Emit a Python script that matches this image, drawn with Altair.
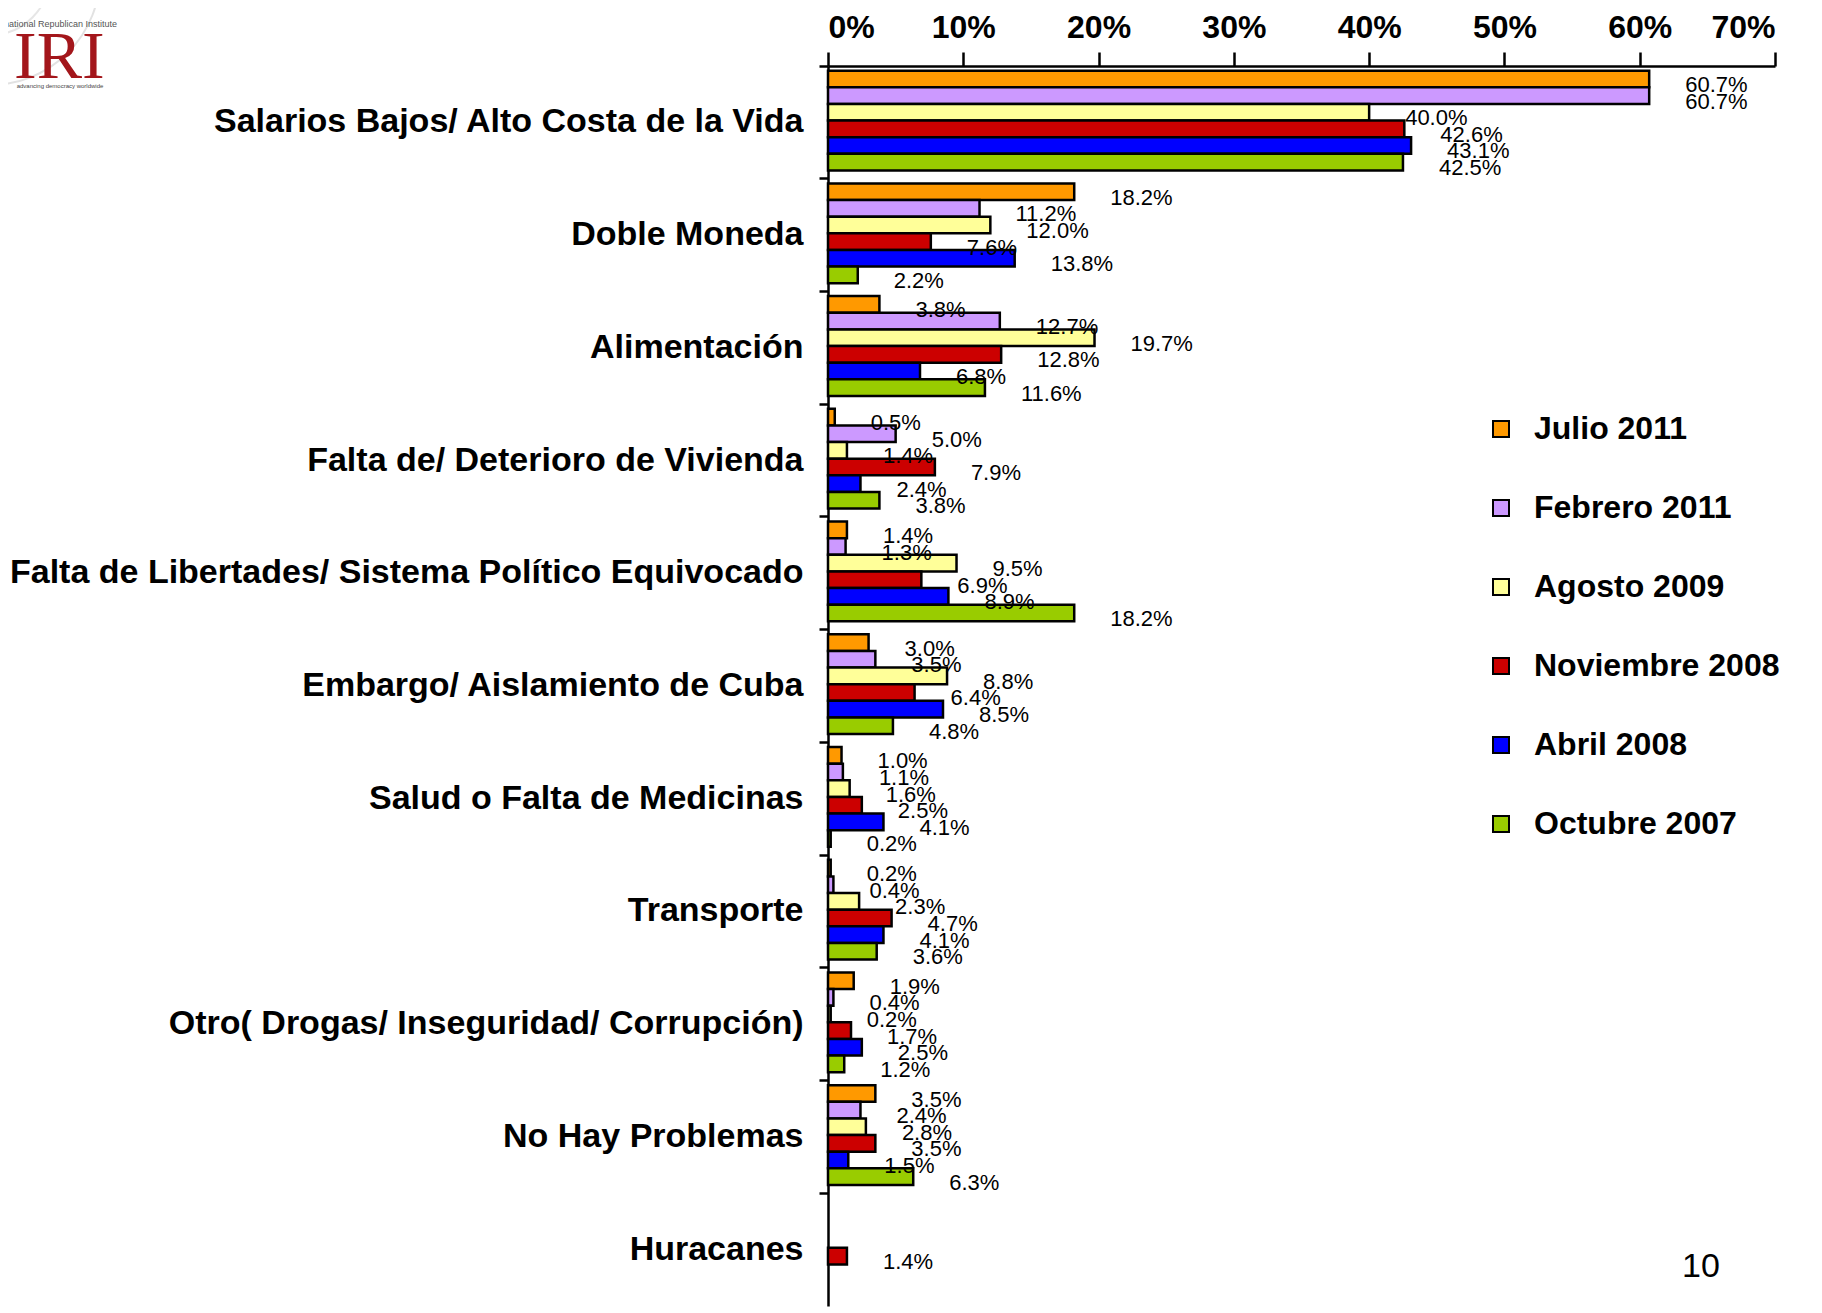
import altair as alt
import pandas as pd

categories = [
    "Salarios Bajos/ Alto Costa de la Vida",
    "Doble Moneda",
    "Alimentación",
    "Falta de/ Deterioro de Vivienda",
    "Falta de Libertades/ Sistema Político Equivocado",
    "Embargo/ Aislamiento de Cuba",
    "Salud o Falta de Medicinas",
    "Transporte",
    "Otro( Drogas/ Inseguridad/ Corrupción)",
    "No Hay Problemas",
    "Huracanes",
]
series = ["Julio 2011", "Febrero 2011", "Agosto 2009", "Noviembre 2008", "Abril 2008", "Octubre 2007"]
julio_2011 = [60.7, 18.2, 3.8, 0.5, 1.4, 3.0, 1.0, 0.2, 1.9, 3.5, None]
febrero_2011 = [60.7, 11.2, 12.7, 5.0, 1.3, 3.5, 1.1, 0.4, 0.4, 2.4, None]
agosto_2009 = [40.0, 12.0, 19.7, 1.4, 9.5, 8.8, 1.6, 2.3, 0.2, 2.8, None]
noviembre_2008 = [42.6, 7.6, 12.8, 7.9, 6.9, 6.4, 2.5, 4.7, 1.7, 3.5, 1.4]
abril_2008 = [43.1, 13.8, 6.8, 2.4, 8.9, 8.5, 4.1, 4.1, 2.5, 1.5, None]
octubre_2007 = [42.5, 2.2, 11.6, 3.8, 18.2, 4.8, 0.2, 3.6, 1.2, 6.3, None]
x_ticks = [0, 10, 20, 30, 40, 50, 60, 70]
colors = ["#FF9900", "#CC99FF", "#FFFF99", "#CC0000", "#0000FF", "#99CC00"]

rows = []
for s, vals in zip(series, [julio_2011, febrero_2011, agosto_2009, noviembre_2008, abril_2008, octubre_2007]):
    for c, v in zip(categories, vals):
        if v is not None:
            rows.append({"categoria": c, "serie": s, "valor": v})
df = pd.DataFrame(rows)

SANS = "Liberation Sans, Arial, sans-serif"

W = 947
H = 1240
OX = 828  # page x of plot origin
OY = 66   # page y of plot origin

x_enc = alt.X(
    "valor:Q",
    scale=alt.Scale(domain=[0, 70], nice=False, zero=True),
    axis=alt.Axis(
        orient="top", values=x_ticks, labelExpr="datum.value + '%'", title=None, grid=False,
        labelFont=SANS, labelFontSize=32, labelFontWeight="bold", labelColor="black",
        tickSize=14, tickColor="black", tickWidth=2.5, domainColor="black", domainWidth=2.5,
        labelPadding=8,
    ),
)
y_enc = alt.Y(
    "categoria:N", sort=categories,
    scale=alt.Scale(paddingInner=0, paddingOuter=0),
    axis=alt.Axis(
        title=None, bandPosition=0, labelFont=SANS, labelFontSize=34,
        labelFontWeight="bold", labelColor="black", labelLimit=1200, labelPadding=16,
        tickSize=9, tickColor="black", tickWidth=2.5, domainColor="black", domainWidth=2.5,
    ),
)
yoff_enc = alt.YOffset("serie:N", sort=series,
                       scale=alt.Scale(domain=series, paddingInner=0, paddingOuter=0.39, align=0.36))
color_enc = alt.Color(
    "serie:N", sort=series, scale=alt.Scale(domain=series, range=colors),
    legend=alt.Legend(
        title=None, orient="none", legendX=657, legendY=347, symbolType="square", symbolSize=256,
        symbolStrokeColor="black", symbolStrokeWidth=2, labelFont=SANS, labelFontSize=32,
        labelFontWeight="bold", labelColor="black", rowPadding=47, labelOffset=17, labelLimit=500,
    ),
)

base = alt.Chart(df)
bars = base.mark_bar(stroke="black", strokeWidth=2.5).encode(
    x=x_enc, y=y_enc, yOffset=yoff_enc, color=color_enc
)
labels = base.transform_calculate(
    etiqueta="format(datum.valor, '.1f') + '%'"
).mark_text(align="left", baseline="middle", dx=36, dy=6, font=SANS, fontSize=22, color="black").encode(
    x=x_enc, y=y_enc, yOffset=yoff_enc, text="etiqueta:N"
)

deco = pd.DataFrame({"k": [1]})
globe1 = alt.Chart(deco).mark_point(shape="circle", filled=False, stroke="#d6d6d6", strokeWidth=2, size=48400).encode(
    x=alt.value(-10 - OX), y=alt.value(-25 - OY))
globe2 = alt.Chart(deco).mark_point(shape="circle", filled=False, stroke="#dcdcdc", strokeWidth=2, size=14400).encode(
    x=alt.value(-10 - OX), y=alt.value(-25 - OY))
inst = alt.Chart(deco).mark_text(text="International Republican Institute", font=SANS, fontSize=9,
                                 color="#555555", align="right", baseline="middle").encode(
    x=alt.value(117 - OX), y=alt.value(24 - OY))
iri = alt.Chart(deco).mark_text(text="IRI", font="Liberation Serif, DejaVu Serif, serif", fontSize=68,
                                color="#A3161B", align="left", baseline="alphabetic").encode(
    x=alt.value(14 - OX), y=alt.value(78 - OY))
tag = alt.Chart(deco).mark_text(text="advancing democracy worldwide", font=SANS, fontSize=6,
                                color="#444444", align="center", baseline="middle").encode(
    x=alt.value(60 - OX), y=alt.value(86 - OY))
page = alt.Chart(deco).mark_text(text="10", font=SANS, fontSize=34, color="black",
                                 align="center", baseline="middle").encode(
    x=alt.value(1701 - OX), y=alt.value(1267 - OY))

chart = alt.layer(globe1, globe2, inst, iri, tag, bars, labels, page).properties(
    width=W, height=H,
    autosize=alt.AutoSizeParams(type="none"),
    padding={"left": 820, "top": 58, "right": 36, "bottom": 4},
    background="white",
).configure_view(stroke=None)

chart.save("out.html", embed_options={"renderer": "svg", "actions": False})
